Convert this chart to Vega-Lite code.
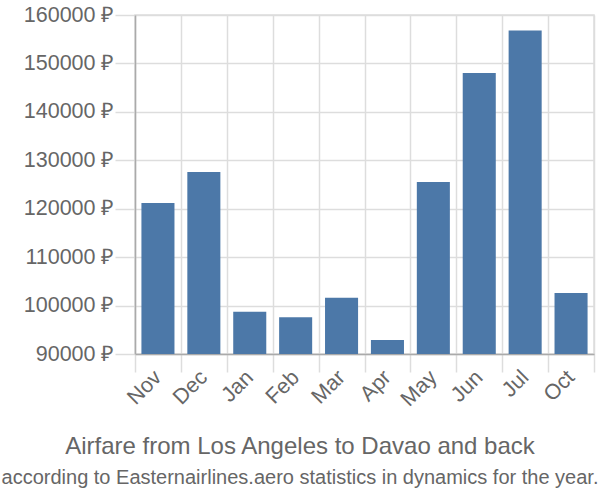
{
  "$schema": "https://vega.github.io/schema/vega-lite/v6.json",
  "width": 459,
  "height": 339,
  "autosize": {"type": "none"},
  "padding": {"left": 135, "top": 15, "right": 6, "bottom": 146},
  "config": {
    "font": "Liberation Sans",
    "view": {"stroke": "#dddddd", "strokeWidth": 1.5},
    "axis": {"gridColor": "#dddddd", "gridWidth": 1.5, "tickColor": "#dddddd", "tickWidth": 1.5, "labelColor": "#666666", "labelFontSize": 21.5, "domainColor": "#aaaaaa", "domainWidth": 1.5}
  },
  "title": {
    "text": "Airfare from Los Angeles to Davao and back",
    "subtitle": "according to Easternairlines.aero statistics in dynamics for the year.",
    "orient": "bottom",
    "anchor": "middle",
    "dx": -64.5,
    "fontSize": 24,
    "fontWeight": "normal",
    "color": "#666666",
    "subtitleFontSize": 20,
    "subtitleColor": "#666666",
    "subtitlePadding": 9,
    "offset": 25
  },
  "data": {
    "values": [
      {"month": "Nov", "price": 121200},
      {"month": "Dec", "price": 127600},
      {"month": "Jan", "price": 98700},
      {"month": "Feb", "price": 97600},
      {"month": "Mar", "price": 101600},
      {"month": "Apr", "price": 92900},
      {"month": "May", "price": 125500},
      {"month": "Jun", "price": 148000},
      {"month": "Jul", "price": 156800},
      {"month": "Oct", "price": 102600}
    ]
  },
  "mark": {"type": "bar", "color": "#4c78a8", "width": {"band": 0.72}, "clip": true},
  "encoding": {
    "x": {
      "field": "month",
      "type": "nominal",
      "sort": null,
      "scale": {"paddingInner": 0, "paddingOuter": 0},
      "axis": {"title": null, "labelAngle": -45, "labelAlign": "right", "labelBaseline": "middle", "tickBand": "extent", "tickSize": 18, "labelPadding": 2, "grid": true}
    },
    "y": {
      "field": "price",
      "type": "quantitative",
      "scale": {"domain": [90000, 160000], "zero": false, "nice": false},
      "axis": {"title": null, "values": [90000, 100000, 110000, 120000, 130000, 140000, 150000, 160000], "labelExpr": "datum.value + ' ₽'", "ticks": true, "tickSize": 20, "labelPadding": 1, "grid": true}
    }
  }
}
